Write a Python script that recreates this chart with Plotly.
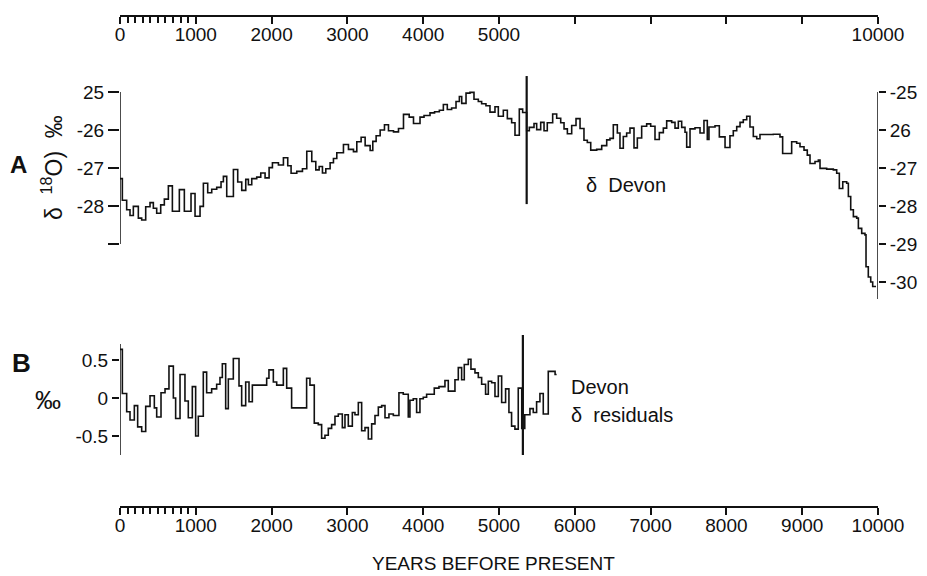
import plotly.graph_objects as go

# ---------------- data ----------------
# Panel A: delta 18O (per mil), step starts (years BP) and values
a_years = [0, 31, 88, 132, 176, 242, 286, 339, 396, 440, 484, 537, 585, 638, 691, 783, 849, 937, 990,
           1056, 1100, 1157, 1210, 1276, 1333, 1364, 1408, 1496, 1553, 1606, 1659, 1694, 1738, 1804, 1857,
           1914, 1967, 2011, 2090, 2156, 2213, 2257, 2332, 2407, 2464, 2530, 2583, 2627, 2671, 2715, 2772,
           2816, 2860, 2948, 3014, 3080, 3124, 3181, 3234, 3300, 3335, 3379, 3432, 3489, 3542, 3608, 3674,
           3740, 3815, 3872, 3958, 4011, 4090, 4150, 4213, 4266, 4318, 4375, 4433, 4477, 4508, 4565, 4617,
           4670, 4727, 4771, 4828, 4881, 4947, 4991, 5057, 5110, 5167, 5211, 5268, 5312, 5365, 5400, 5462,
           5497, 5550, 5594, 5637, 5708, 5761, 5814, 5858, 5902, 5959, 6016, 6069, 6121, 6165, 6210, 6289,
           6355, 6421, 6464, 6508, 6561, 6596, 6640, 6684, 6728, 6781, 6825, 6882, 6948, 7001, 7058, 7115,
           7168, 7212, 7278, 7322, 7366, 7410, 7454, 7476, 7520, 7586, 7652, 7704, 7748, 7770, 7850, 7907,
           7982, 8047, 8091, 8136, 8180, 8223, 8268, 8311, 8355, 8400, 8443, 8619, 8707, 8742, 8861, 8927,
           8971, 9024, 9067, 9103, 9169, 9213, 9235, 9323, 9411, 9455, 9490, 9535, 9587, 9609, 9640, 9675,
           9719, 9741, 9785, 9828, 9842, 9872, 9904, 9930, 9974]
a_values = [-27.28, -27.85, -28.10, -28.25, -28.01, -28.32, -28.37, -28.02, -27.91, -28.06, -28.19, -27.97,
            -27.82, -27.47, -28.14, -27.57, -28.14, -27.67, -28.27, -28.01, -27.40, -27.65, -27.56, -27.51,
            -27.36, -27.22, -27.75, -27.04, -27.37, -27.59, -27.30, -27.44, -27.28, -27.24, -27.13, -27.26,
            -26.99, -26.86, -26.92, -26.73, -26.94, -27.14, -27.09, -27.02, -26.56, -26.83, -27.05, -26.96,
            -27.13, -27.02, -26.86, -26.75, -26.60, -26.38, -26.51, -26.57, -26.31, -26.19, -26.41, -26.54,
            -26.30, -26.15, -26.00, -25.86, -26.02, -26.05, -25.96, -25.59, -25.66, -25.83, -25.66, -25.62,
            -25.55, -25.52, -25.48, -25.33, -25.46, -25.42, -25.25, -25.12, -25.30, -25.03, -25.01, -25.19,
            -25.25, -25.31, -25.36, -25.53, -25.39, -25.64, -25.48, -25.70, -25.81, -26.14, -25.45, -25.54,
            -26.02, -25.93, -25.83, -25.99, -25.80, -26.02, -25.81, -25.58, -25.69, -25.81, -25.97, -26.10,
            -25.88, -25.70, -25.96, -26.27, -26.33, -26.53, -26.51, -26.41, -26.26, -26.22, -25.86, -26.08,
            -26.48, -26.17, -26.08, -25.95, -26.47, -26.21, -25.90, -25.84, -25.90, -26.25, -26.07, -25.95,
            -25.76, -25.80, -25.95, -25.77, -25.93, -26.06, -26.45, -25.97, -25.94, -26.08, -25.75, -26.25,
            -25.92, -25.89, -26.18, -26.46, -26.15, -26.02, -25.91, -25.80, -25.73, -25.64, -25.92, -26.17,
            -26.23, -26.12, -26.11, -26.18, -26.62, -26.31, -26.35, -26.44, -26.53, -26.66, -26.88, -26.83,
            -26.79, -27.01, -27.03, -27.05, -27.14, -27.54, -27.36, -27.40, -27.75, -28.10, -28.28, -28.32,
            -28.59, -28.72, -28.76, -29.60, -29.87, -30.00, -30.12, -30.12]

# Panel B: Devon delta residuals (per mil)
b_years = [0, 31, 88, 132, 189, 233, 286, 339, 396, 453, 484, 541, 594, 646, 704, 734, 792, 857, 901, 954,
           998, 1033, 1099, 1143, 1209, 1275, 1319, 1350, 1394, 1429, 1495, 1570, 1605, 1658, 1702, 1746,
           1878, 1935, 1965, 2023, 2067, 2155, 2199, 2264, 2462, 2506, 2563, 2616, 2660, 2704, 2748, 2792,
           2836, 2880, 2933, 2968, 3012, 3065, 3100, 3144, 3188, 3232, 3276, 3320, 3364, 3408, 3452, 3496,
           3548, 3606, 3680, 3737, 3803, 3825, 3869, 3913, 3957, 4001, 4045, 4146, 4208, 4287, 4331, 4419,
           4463, 4507, 4542, 4595, 4630, 4683, 4727, 4771, 4823, 4859, 4903, 4947, 4991, 5035, 5087, 5131,
           5166, 5210, 5254, 5300, 5340, 5408, 5452, 5496, 5540, 5584, 5650, 5740, 5760]
b_values = [0.64, 0.06, -0.18, -0.29, -0.10, -0.38, -0.44, -0.11, 0.03, -0.13, -0.25, 0.07, 0.12, 0.42, 0.00,
            -0.27, 0.31, -0.04, -0.26, 0.15, -0.50, -0.24, 0.34, 0.07, 0.12, 0.18, 0.27, 0.45, -0.14, 0.25,
            0.52, 0.16, -0.10, 0.21, -0.05, 0.17, 0.17, 0.26, 0.37, 0.21, 0.17, 0.39, 0.13, -0.13, 0.26, 0.17,
            -0.33, -0.35, -0.53, -0.49, -0.40, -0.35, -0.24, -0.21, -0.39, -0.22, -0.37, -0.19, -0.22, -0.06,
            -0.43, -0.39, -0.54, -0.34, -0.23, -0.12, -0.10, -0.26, -0.21, -0.23, 0.07, 0.05, -0.25, -0.03,
            -0.01, -0.19, -0.01, 0.01, 0.05, 0.13, 0.15, 0.23, 0.09, 0.24, 0.40, 0.24, 0.44, 0.51, 0.38, 0.33,
            0.27, 0.18, 0.05, 0.22, 0.20, 0.02, 0.29, -0.06, 0.12, -0.19, -0.37, -0.41, 0.13, -0.40, -0.22,
            -0.14, -0.19, -0.05, 0.06, -0.21, 0.35, 0.31, 0.31]

# Marker lines (break in record)
a_break_year = 5365
a_break_range = [-24.58, -27.95]
b_break_year = 5315
b_break_range = [0.83, -0.75]

# Axis ticks
major_years = [0, 1000, 2000, 3000, 4000, 5000, 6000, 7000, 8000, 9000, 10000]
minor_years = [100, 200, 300, 400, 500, 600, 700, 800, 900]
top_tick_text = ["0", "1000", "2000", "3000", "4000", "5000", "", "", "", "", "10000"]
bottom_tick_text = ["0", "1000", "2000", "3000", "4000", "5000", "6000", "7000", "8000", "9000", "10000"]
a_left_ticks = [-25, -26, -27, -28, -29]
a_left_text = ["25", "-26", "-27", "-28", " "]
a_right_ticks = [-25, -26, -27, -28, -29, -30]
a_right_text = ["-25", "26", "-27", "-28", "-29", "-30"]
b_ticks = [0.5, 0, -0.5]
b_text = ["0.5", "0", "-0.5"]

# ---------------- figure ----------------
W, H = 927, 576
FONT = "Liberation Sans, Arial, Helvetica, sans-serif"
INK = "#111111"

def px(x):
    return x / W

def py(y):
    return 1 - y / H

xdom = [px(120), px(878)]
a_range = [-30.55, -24.5]
a_dom = [py(302.9), py(73)]
b_range = [-0.85, 0.9]
b_dom = [py(462.6), py(329.6)]

fig = go.Figure()

# Panel A curve
fig.add_trace(go.Scatter(x=a_years, y=a_values, mode="lines", line=dict(shape="hv", color=INK, width=1.6),
                         xaxis="x", yaxis="y", hoverinfo="skip", showlegend=False))
fig.add_trace(go.Scatter(x=[a_break_year, a_break_year], y=a_break_range, mode="lines",
                         line=dict(color=INK, width=2.2), xaxis="x", yaxis="y", hoverinfo="skip",
                         showlegend=False))
# Panel B curve
fig.add_trace(go.Scatter(x=b_years, y=b_values, mode="lines", line=dict(shape="hv", color=INK, width=1.6),
                         xaxis="x", yaxis="y3", hoverinfo="skip", showlegend=False))
fig.add_trace(go.Scatter(x=[b_break_year, b_break_year], y=b_break_range, mode="lines",
                         line=dict(color=INK, width=2.2), xaxis="x", yaxis="y3", hoverinfo="skip",
                         showlegend=False))
# invisible helpers so the extra axes are drawn
for xa, ya in [("x2", "y"), ("x3", "y"), ("x", "y2")]:
    fig.add_trace(go.Scatter(x=[0, 10000], y=[-25, -25], mode="lines", opacity=0,
                             line=dict(width=0.1), xaxis=xa, yaxis=ya, hoverinfo="skip", showlegend=False))

tickfont = dict(family=FONT, size=19, color=INK)

def year_axis(pos, text):
    return dict(domain=xdom, range=[0, 10000], overlaying="x", anchor="free", position=pos,
                side="bottom", showline=True, linecolor=INK, linewidth=1.5, ticks="outside", ticklen=7,
                tickwidth=1.5, tickcolor=INK, tickmode="array", tickvals=major_years, ticktext=text,
                tickfont=tickfont, showgrid=False, zeroline=False, automargin=False,
                ticklabelstandoff=-6,
                minor=dict(tickmode="array", tickvals=minor_years, ticks="outside", ticklen=6,
                           tickwidth=1.5, tickcolor=INK, showgrid=False))

fig.update_layout(
    width=W, height=H, margin=dict(l=0, r=0, t=0, b=0, pad=0),
    paper_bgcolor="white", plot_bgcolor="rgba(0,0,0,0)",
    showlegend=False,
    xaxis=dict(domain=xdom, range=[0, 10000], visible=False, anchor="y"),
    xaxis2=year_axis(py(16), top_tick_text),
    xaxis3=year_axis(py(507), bottom_tick_text),
    yaxis=dict(domain=a_dom, range=a_range, anchor="x", side="left", showline=False, showgrid=False,
               zeroline=False, ticks="outside", ticklen=11, tickwidth=1.5, tickcolor=INK, tickmode="array",
               tickvals=a_left_ticks, ticktext=a_left_text, tickfont=tickfont, automargin=False),
    yaxis2=dict(domain=a_dom, range=a_range, anchor="x", overlaying="y", side="right", showline=False,
                showgrid=False, zeroline=False, ticks="outside", ticklen=7, tickwidth=1.5, tickcolor=INK,
                tickmode="array", tickvals=a_right_ticks, ticktext=a_right_text, tickfont=tickfont,
                automargin=False),
    yaxis3=dict(domain=b_dom, range=b_range, anchor="x", side="left", showline=False, showgrid=False,
                zeroline=False, ticks="outside", ticklen=7, tickwidth=1.5, tickcolor=INK, tickmode="array",
                tickvals=b_ticks, ticktext=b_text, tickfont=tickfont, automargin=False),
)

# axis spines with limited extents
line_style = dict(color=INK, width=1.5)
fig.add_shape(type="line", xref="x", yref="y", x0=0, x1=0, y0=-25, y1=-29, line=line_style)
fig.add_shape(type="line", xref="x", yref="y", x0=10000, x1=10000, y0=-25, y1=-30.45, line=line_style)
fig.add_shape(type="line", xref="x", yref="y3", x0=0, x1=0, y0=0.71, y1=-0.75, line=line_style)

def ann(text, x, y, size=18, xanchor="center", bold=False, angle=0):
    fig.add_annotation(text=("<b>%s</b>" % text) if bold else text, x=px(x), y=py(y), xref="paper",
                       yref="paper", showarrow=False, xanchor=xanchor, yanchor="middle", textangle=angle,
                       font=dict(family=FONT, size=size, color=INK))

ann("A", 18, 165, size=24, bold=True)
ann("δ  <sup>18</sup>O)  ‰", 52, 168, size=23, angle=-90)
ann("δ  Devon", 584, 185, size=20, xanchor="left")
ann("B", 21, 363, size=26, bold=True)
ann("‰", 48, 400, size=26)
ann("Devon", 569, 387, size=20, xanchor="left")
ann("δ  residuals", 569, 415, size=20, xanchor="left")
ann("YEARS BEFORE PRESENT", 494, 563, size=19)

fig.write_html("out.html")
